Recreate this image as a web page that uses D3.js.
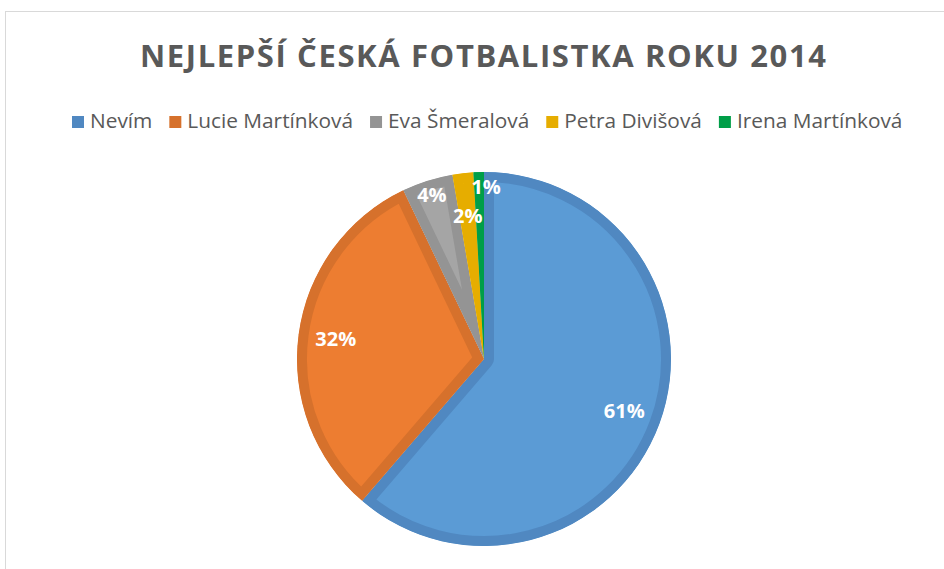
<!DOCTYPE html>
<html>
<head>
<meta charset="utf-8">
<script src="https://cdn.jsdelivr.net/npm/d3@7"></script>
<style>
  body { margin: 0; background: #fff; }
  svg { display: block; }
</style>
</head>
<body>
<div id="chart"></div>
<script>
// data
var names = ["Nevím", "Lucie Martínková", "Eva Šmeralová", "Petra Divišová", "Irena Martínková"];
var values = [61.3, 31.6, 4.4, 1.8, 0.9];
var fills = ["#5B9BD5", "#ED7D31", "#A5A5A5", "#FFC000", "#00B050"];
var strokes = ["#5088C1", "#D6712C", "#949494", "#E6AD00", "#009E48"];
var title = "NEJLEPŠÍ ČESKÁ FOTBALISTKA ROKU 2014";

var width = 944, height = 569;
var cx = 484, cy = 359, radius = 187;
var font = "'Open Sans', 'Noto Sans', sans-serif";

var svg = d3.select("#chart")
    .append("svg")
    .attr("width", width)
    .attr("height", height);

// chart area border
svg.append("rect")
    .attr("x", 5.5)
    .attr("y", 11.5)
    .attr("width", 1000)
    .attr("height", 1000)
    .attr("fill", "#fff")
    .attr("stroke", "#D9D9D9")
    .attr("stroke-width", 1);

// title
svg.append("text")
    .attr("x", 140)
    .attr("y", 67)
    .attr("textLength", 686)
    .attr("lengthAdjust", "spacing")
    .style("font-family", font)
    .style("font-weight", "bold")
    .style("font-size", "31px")
    .style("fill", "#595959")
    .text(title);

// legend
var legend = svg.append("g");
var legendSize = 19;
var gap = 17;
var items = legend.selectAll("g")
    .data(names)
    .enter()
    .append("g");

items.append("rect")
    .attr("width", 12)
    .attr("height", 12)
    .attr("y", -12)
    .attr("fill", function (d, i) { return strokes[i]; });

var legendText = items.append("text")
    .attr("x", 18)
    .attr("y", 0)
    .style("font-family", font)
    .style("font-size", legendSize + "px")
    .style("fill", "#595959")
    .text(function (d) { return d; });

// size the legend font so the row spans 72..903 like the original
function measure() {
    var w = [];
    legendText.each(function () { w.push(18 + this.getComputedTextLength()); });
    return w;
}
var widths = measure();
var textTotal = d3.sum(widths) - 18 * widths.length;
var target = 903 - 72 - gap * (widths.length - 1) - 18 * widths.length;
legendSize = legendSize * target / textTotal;
legendText.style("font-size", legendSize + "px");
widths = measure();

var pos = 0;
items.attr("transform", function (d, i) {
    var x = 72 + pos;
    pos += widths[i] + gap;
    return "translate(" + x + ",128)";
});

// pie
var pie = d3.pie().sort(null).value(function (d) { return d; });
var arcs = pie(values);
var arc = d3.arc().innerRadius(0).outerRadius(radius);

var g = svg.append("g")
    .attr("transform", "translate(" + cx + "," + cy + ")");

var defs = svg.append("defs");
defs.selectAll("clipPath")
    .data(arcs)
    .enter()
    .append("clipPath")
    .attr("id", function (d, i) { return "clip" + i; })
    .append("path")
    .attr("d", arc);

g.selectAll("path.slice")
    .data(arcs)
    .enter()
    .append("path")
    .attr("class", "slice")
    .attr("d", arc)
    .attr("fill", function (d, i) { return fills[i]; })
    .attr("stroke", function (d, i) { return strokes[i]; })
    .attr("stroke-width", 20)
    .attr("stroke-linejoin", "round")
    .attr("clip-path", function (d, i) { return "url(#clip" + i + ")"; });

// data labels, small slices staggered so they don't collide
function labelRadius(d, i) {
    if (d.data >= 5) return radius * 0.8;
    return i % 2 === 0 ? radius * 0.92 : radius * 0.77;
}

g.selectAll("text.lbl")
    .data(arcs)
    .enter()
    .append("text")
    .attr("class", "lbl")
    .attr("transform", function (d, i) {
        var r = labelRadius(d, i);
        var c = d3.arc().innerRadius(r).outerRadius(r).centroid(d);
        // the tiniest slice label sits just right of the split line
        if (d.data < 1.5) c[0] += 7;
        return "translate(" + c[0] + "," + c[1] + ")";
    })
    .attr("text-anchor", "middle")
    .attr("dy", "0.35em")
    .style("font-family", font)
    .style("font-weight", "bold")
    .style("font-size", "20px")
    .style("fill", "#fff")
    .text(function (d) { return Math.round(d.data) + "%"; });
</script>
</body>
</html>
